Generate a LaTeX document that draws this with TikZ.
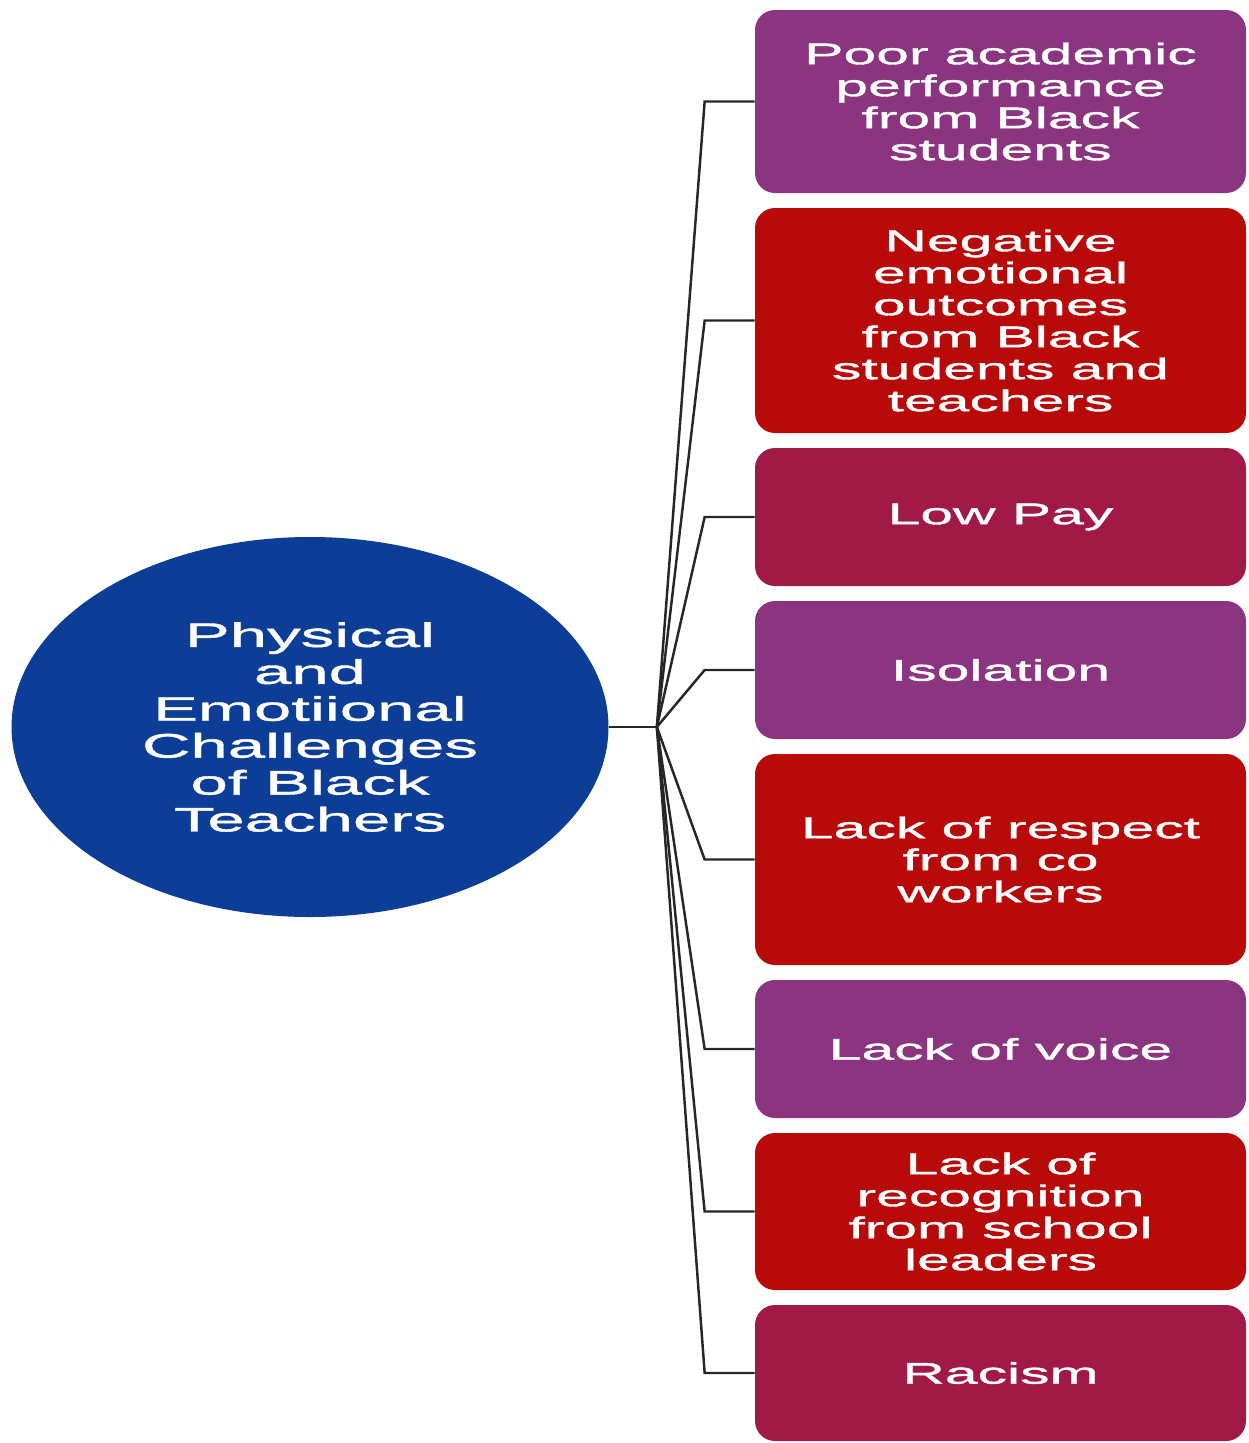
\documentclass[tikz,border=0pt]{standalone}
\usepackage{fontspec}
\setmainfont{Liberation Sans}[FakeStretch=1.97, FakeBold=1.2]
\usetikzlibrary{positioning}
\usetikzlibrary{shapes.geometric}
\definecolor{hubblue}{HTML}{0C3E98}
\definecolor{boxpurple}{HTML}{8B3580}
\definecolor{boxred}{HTML}{B90A0A}
\definecolor{boxcrimson}{HTML}{A01A45}

\begin{document}
\begin{tikzpicture}[
        center/.style={ellipse, fill=hubblue, text=white, minimum width=11.94cm, minimum height=7.6cm, inner sep=0pt, align=center, font=\fontsize{19.4}{21}\selectfont},
        box/.style={rectangle, rounded corners=0.4cm, text=white, minimum width=9.82cm, align=center, inner sep=0pt, font=\fontsize{17}{18.2}\selectfont},
        link/.style={line width=1.4pt, black!85},
    ]
        \useasboundingbox (0,0) rectangle (24.96,-28.86);

        \node[center] (topic) at (6.2,-14.54) {Physical\\and\\Emotiional\\Challenges\\of Black\\Teachers};

        \node[box, fill=boxpurple, minimum height=3.66cm] (academic) at (20.01,-2.03) {Poor academic\\performance\\from Black\\students};
        \node[box, fill=boxred, minimum height=4.5cm] (negative) at (20.01,-6.41) {Negative\\emotional\\outcomes\\from Black\\students and\\teachers};
        \node[box, fill=boxcrimson, minimum height=2.76cm] (pay) at (20.01,-10.34) {Low Pay};
        \node[box, fill=boxpurple, minimum height=2.76cm] (isolation) at (20.01,-13.4) {Isolation};
        \node[box, fill=boxred, minimum height=4.22cm] (respect) at (20.01,-17.19) {Lack of respect\\from co\\workers};
        \node[box, fill=boxpurple, minimum height=2.76cm] (voice) at (20.01,-20.98) {Lack of voice};
        \node[box, fill=boxred, minimum height=3.14cm] (recognition) at (20.01,-24.23) {Lack of\\recognition\\from school\\leaders};
        \node[box, fill=boxcrimson, minimum height=2.72cm] (racism) at (20.01,-27.46) {Racism};

        \coordinate[right = 0.96cm of topic.east] (hub);

        \draw[link] (topic.east) -- (hub);
        \draw[link] (hub) -- ([xshift=-1cm]academic.west) -- (academic.west);
        \draw[link] (hub) -- ([xshift=-1cm]negative.west) -- (negative.west);
        \draw[link] (hub) -- ([xshift=-1cm]pay.west) -- (pay.west);
        \draw[link] (hub) -- ([xshift=-1cm]isolation.west) -- (isolation.west);
        \draw[link] (hub) -- ([xshift=-1cm]respect.west) -- (respect.west);
        \draw[link] (hub) -- ([xshift=-1cm]voice.west) -- (voice.west);
        \draw[link] (hub) -- ([xshift=-1cm]recognition.west) -- (recognition.west);
        \draw[link] (hub) -- ([xshift=-1cm]racism.west) -- (racism.west);
    \end{tikzpicture}
\end{document}
